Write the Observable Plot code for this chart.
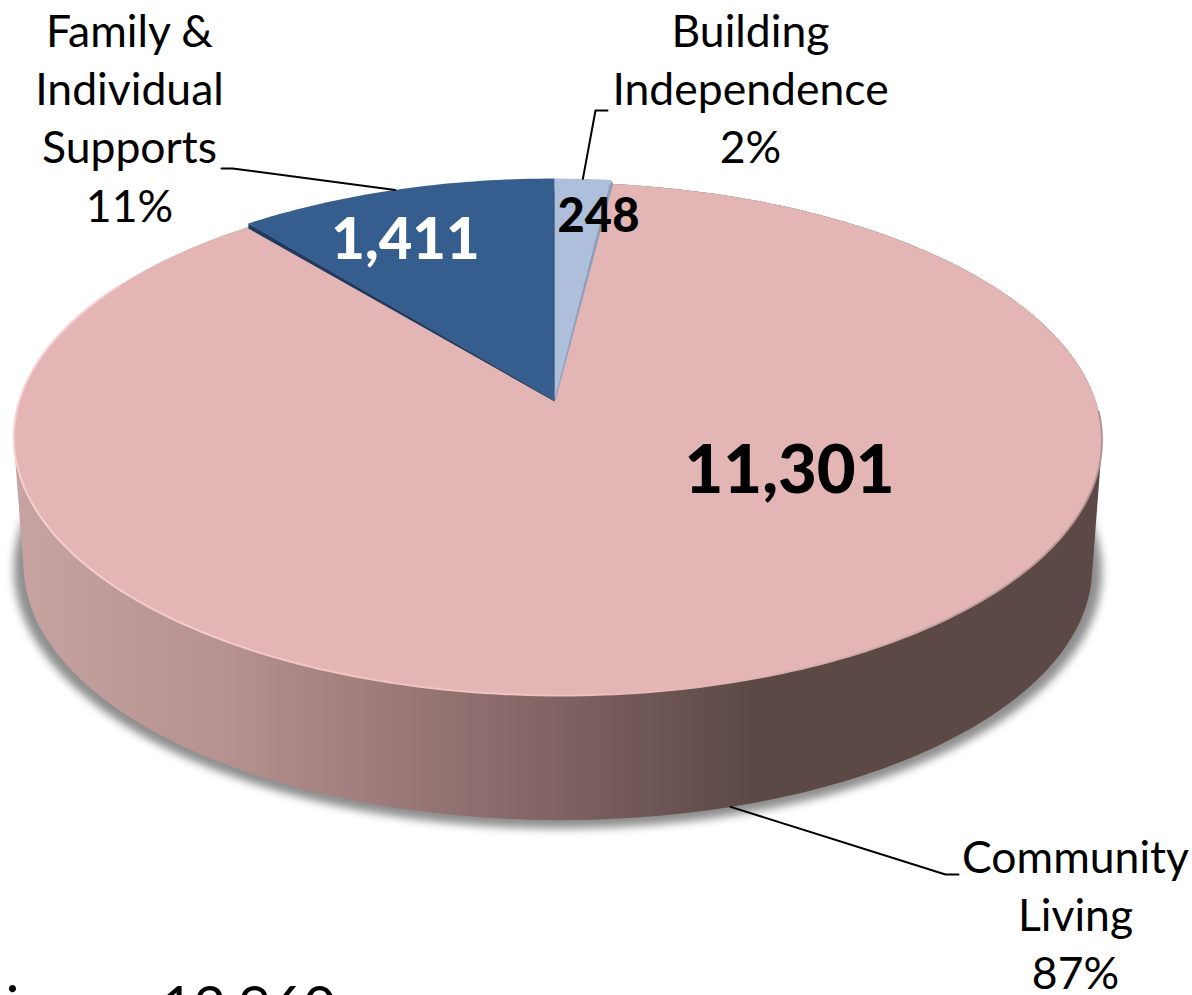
<!DOCTYPE html>
<html><head><meta charset="utf-8">
<script src="https://cdn.jsdelivr.net/npm/d3@7"></script>
<script src="https://cdn.jsdelivr.net/npm/@observablehq/plot@0.6"></script>
<style>html,body{margin:0;padding:0;background:#fff;overflow:hidden}</style>
</head><body><div id="chart"></div>
<script>
// Data (clockwise from 12 o'clock)
const categories = ["Building Independence", "Community Living", "Family & Individual Supports"];
const labelLines = ["Building\nIndependence", "Community\nLiving", "Family &\nIndividual\nSupports"];
const values = [248, 11301, 1411];
const colors = ["#aebfdb", "#e4b5b5", "#355e8f"];
const valueColors = ["#000", "#000", "#fff"];
const total = d3.sum(values);

// Pie geometry: a circle seen in perspective
const apex = {x: 554, y: 400}, R = 538.6, S = 253.3, k = -0.1412;
const rim = (deg, drop = 0, scale = 1, sag = 0) => {
  const a = deg * Math.PI / 180, cx = Math.sin(a), cy = -Math.cos(a), d = 1 + k * cy;
  return {x: apex.x + 3 * (1 + cy) + scale * R * cx / d, y: apex.y + drop + scale * S * cy / d + sag * (1 - cy) / 2};
};
let acc = 0;
const slices = values.map((v, i) => {
  const start = acc * 360 / total; acc += v;
  const end = acc * 360 / total;
  return {name: categories[i], value: v, start, end, mid: (start + end) / 2};
});
const arc = (a0, a1, drop, scale, sag) => {
  const n = Math.max(2, Math.ceil(a1 - a0)), out = [];
  for (let i = 0; i <= n; i++) out.push(rim(a0 + (a1 - a0) * i / n, drop, scale, sag));
  return out;
};
const sagOf = i => (i === 1 ? 4 : 0);
const wedge = (s, i) => [apex, ...arc(s.start, s.end, 0, 1, sagOf(i))];
const faceRows = [1, 0, 2].flatMap(i => wedge(slices[i], i).map(p => ({...p, slice: categories[i]})));

const depth = 130, lowScale = 0.982;
const bottom = arc(0, 360, depth, lowScale);
const commRim = arc(slices[1].start, slices[1].end, 0, 1, 4);
const wallHull = d3.polygonHull([...commRim, ...bottom].map(p => [p.x, p.y])).map(([x, y]) => ({x, y}));
const shadow = arc(0, 360, depth + 3, 1);
const frontRim = arc(92, 300, 0, 1, 4);

// Thin visible inner walls along the slice edges
const b1 = rim(slices[0].end), f0 = rim(slices[2].start);
const sliverB = [apex, b1, {x: b1.x + 2, y: b1.y + 4}, {x: apex.x + 1, y: apex.y}];
const sliverF = [apex, f0, {x: f0.x, y: f0.y + 5}, {x: apex.x, y: apex.y + 1}];

// Label layout: text anchor and elbow offset per slice
const labelAnchor = [{x: 750, y: 5}, {x: 1075, y: 831}, {x: 129, y: 5}];
const elbows = [[{x: 607, y: 110}, {x: 595, y: 110}], [{x: 958, y: 874}, {x: 945, y: 874}], [{x: 221, y: 168}, {x: 232, y: 168}]];
const valueAnchor = [{x: 598, y: 216, size: 47}, {x: 789, y: 471, size: 67}, {x: 405, y: 240, size: 58}];

const labels = slices.map((s, i) => ({...labelAnchor[i], text: labelLines[i] + "\n" + Math.round(s.value / total * 100) + "%"}));
const leaderEnd = [rim(slices[0].mid), rim(slices[1].mid, depth, lowScale), rim(slices[2].mid)];
const leaderRows = slices.flatMap((s, i) => [...elbows[i], leaderEnd[i]].map(p => ({...p, slice: s.name})));
const valueRows = slices.map((s, i) => ({...valueAnchor[i], text: d3.format(",")(s.value), color: valueColors[i]}));

const wallStops = [[0, "#c6a3a1"], [0.2, "#b4908e"], [0.44, "#8b6b6b"], [0.68, "#5c4946"], [1, "#5c4946"]];
const rimStops = [[0, "#f8cfcf"], [0.5, "#f0c0c0"], [0.85, "#c9a5a4"], [1, "#b39695"]];
const grad = (id, x1, x2, stops) => `<linearGradient id="${id}" gradientUnits="userSpaceOnUse" x1="${x1}" x2="${x2}" y1="0" y2="0">` +
  stops.map(([o, c]) => `<stop offset="${o}" stop-color="${c}"/>`).join("") + `</linearGradient>`;
const defs = () => {
  const g = document.createElementNS("http://www.w3.org/2000/svg", "g");
  g.innerHTML = `<defs>${grad("wall", 20, 1095, wallStops)}${grad("rim", 20, 1095, rimStops)}</defs>`;
  return g;
};

const font = "Lato, Carlito, 'Open Sans', sans-serif";
const chart = Plot.plot({
  width: 1192, height: 995, margin: 0,
  x: {domain: [0, 1192], range: [0, 1192], axis: null},
  y: {domain: [0, 995], range: [0, 995], axis: null},
  color: {domain: categories, range: colors},
  style: {background: "#fff", fontFamily: font},
  marks: [
    defs,
    Plot.line(shadow, {x: "x", y: "y", fill: "#8e8e8e", stroke: "none", imageFilter: "blur(4px)"}),
    Plot.line(wallHull, {x: "x", y: "y", fill: "url(#wall)", stroke: "none"}),
    Plot.line(faceRows.filter(d => d.slice === categories[1]), {x: "x", y: "y", fill: "slice", stroke: "none"}),
    Plot.line(frontRim, {x: "x", y: "y", stroke: "url(#rim)", strokeWidth: 2}),
    Plot.line(sliverB, {x: "x", y: "y", fill: "#8d9fbd", stroke: "none"}),
    Plot.line(sliverF, {x: "x", y: "y", fill: "#1f3a5f", stroke: "none"}),
    Plot.line(faceRows.filter(d => d.slice !== categories[1]), {x: "x", y: "y", fill: "slice", stroke: "none"}),
    Plot.line(leaderRows, {x: "x", y: "y", z: "slice", stroke: "#000", strokeWidth: 2, curve: "linear"}),
    Plot.text(labels, {x: "x", y: "y", text: "text", fontSize: 44.5, lineHeight: 1.31, lineAnchor: "top", textAnchor: "middle", fill: "#000"}),
    Plot.text(valueRows, {x: "x", y: "y", text: "text", fontSize: "size", fontWeight: 900, fill: "color", textAnchor: "middle", lineAnchor: "middle"}),
    Plot.text([{x: 248, y: 1025, t: d3.format(",")(total)}, {x: 12, y: 1025, t: "i"}], {x: "x", y: "y", text: "t", fontSize: 56, fill: "#000", lineAnchor: "bottom", textAnchor: "middle"})
  ]
});
document.getElementById("chart").append(chart);
</script></body></html>
